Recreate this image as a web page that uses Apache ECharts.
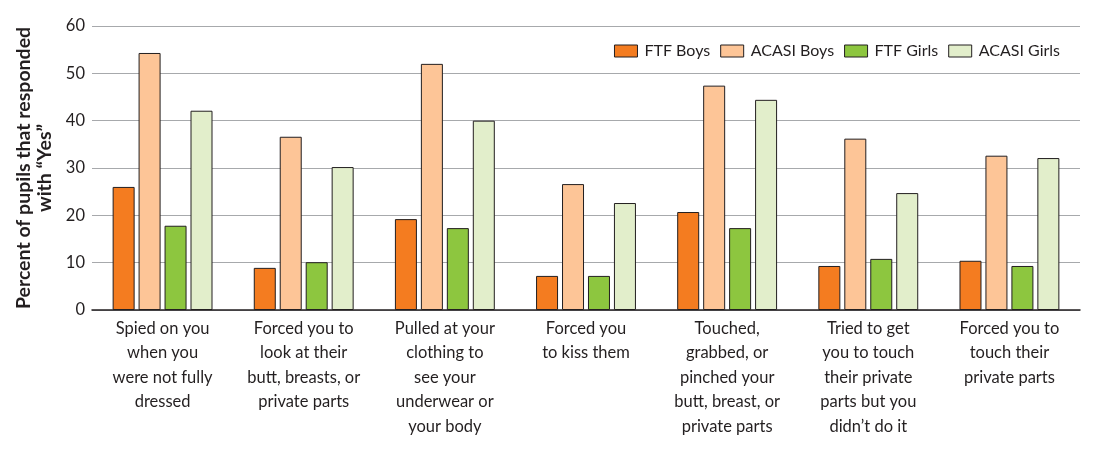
<!DOCTYPE html>
<html>
<head>
<meta charset="utf-8">
<script src="https://cdn.jsdelivr.net/npm/echarts@6/dist/echarts.min.js"></script>
<style>
html,body{margin:0;padding:0;background:#fff;}
#chart{width:1115px;height:453px;}
</style>
</head>
<body>
<div id="chart"></div>
<script>
const categories = [
  "Spied on you\nwhen you\nwere not fully\ndressed",
  "Forced you to\nlook at their\nbutt, breasts, or\nprivate parts",
  "Pulled at your\nclothing to\nsee your\nunderwear or\nyour body",
  "Forced you\nto kiss them",
  "Touched,\ngrabbed, or\npinched your\nbutt, breast, or\nprivate parts",
  "Tried to get\nyou to touch\ntheir private\nparts but you\ndidn\u2019t do it",
  "Forced you to\ntouch their\nprivate parts"
];
const ftfBoys    = [26.0, 8.9, 19.2, 7.2, 20.7, 9.3, 10.4];
const acasiBoys  = [54.3, 36.6, 52.0, 26.6, 47.4, 36.2, 32.6];
const ftfGirls   = [17.8, 10.1, 17.3, 7.2, 17.3, 10.8, 9.3];
const acasiGirls = [42.1, 30.2, 40.0, 22.6, 44.4, 24.7, 32.1];
const seriesNames = ["FTF Boys", "ACASI Boys", "FTF Girls", "ACASI Girls"];
const yTicks = [0, 10, 20, 30, 40, 50, 60];

const colors = ["#F47C20", "#FDC597", "#8DC63F", "#E2EECB"];
const FONT = "Lato";
const chart = echarts.init(document.getElementById('chart'));
const data = [ftfBoys, acasiBoys, ftfGirls, acasiGirls];
chart.setOption({
  animation: false,
  textStyle: {fontFamily: FONT},
  legend: {
    top: 38, right: 50, icon: 'rect',
    itemWidth: 23, itemHeight: 12, itemGap: 10,
    itemStyle: {borderColor: '#231f20', borderWidth: 1},
    textStyle: {fontSize: 16, color: '#231f20', fontFamily: FONT, padding: [0, 0, 0, 2]},
    data: seriesNames
  },
  grid: {left: 92, right: 35, top: 26, bottom: 143, containLabel: false, outerBoundsMode: 'none'},
  xAxis: {
    type: 'category',
    data: categories,
    axisLine: {lineStyle: {color: '#231f20', width: 1.5}},
    axisTick: {show: false},
    axisLabel: {interval: 0, fontSize: 16.5, lineHeight: 24.5, color: '#231f20', margin: 6, fontFamily: FONT}
  },
  yAxis: {
    type: 'value', min: 0, max: 60, interval: 10,
    name: "Percent of pupils that responded\nwith \u201cYes\u201d",
    nameLocation: 'middle', nameGap: 31, nameRotate: 90,
    nameTextStyle: {fontSize: 19.5, fontWeight: 'bold', color: '#231f20', lineHeight: 21, fontFamily: FONT},
    axisLine: {show: false},
    axisTick: {show: false},
    axisLabel: {fontSize: 16.5, color: '#231f20', margin: 7, fontFamily: FONT,
      formatter: v => yTicks.includes(v) ? String(v) : ''},
    splitLine: {lineStyle: {color: '#a7a9ac', width: 1}}
  },
  series: seriesNames.map((n, i) => ({
    name: n, type: 'bar', data: data[i],
    barWidth: 22, barGap: '18%',
    itemStyle: {color: colors[i], borderColor: '#231f20', borderWidth: 1}
  }))
});
</script>
</body>
</html>
